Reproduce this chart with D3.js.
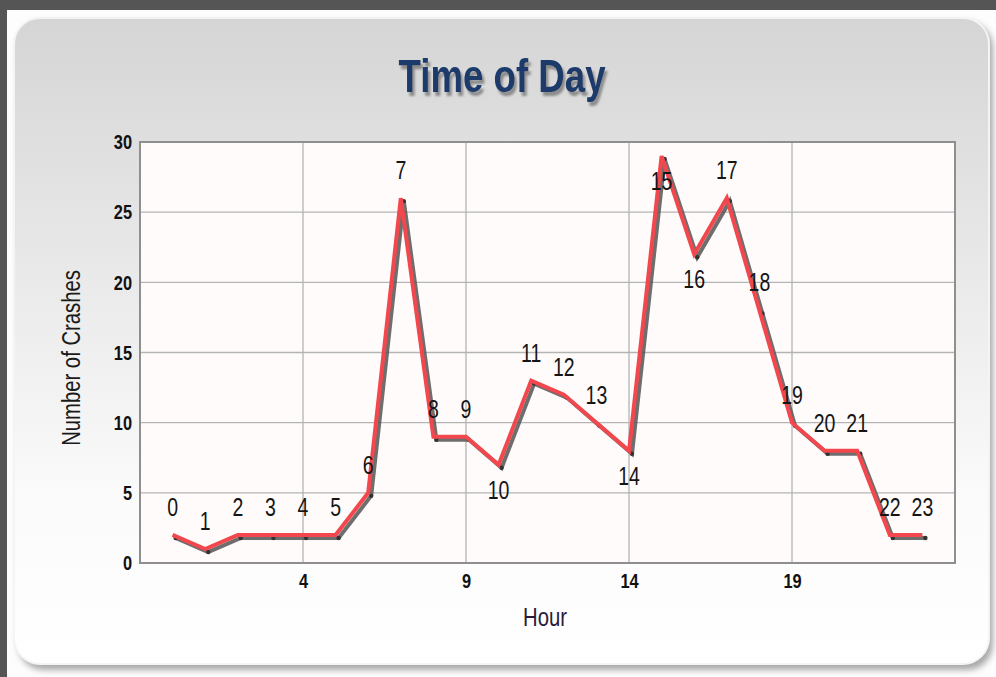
<!DOCTYPE html>
<html>
<head>
<meta charset="utf-8">
<script src="https://cdn.jsdelivr.net/npm/d3@7"></script>
<style>
  html, body { margin: 0; padding: 0; background: #555; }
  svg { display: block; }
  text { font-family: "Liberation Sans", Arial, sans-serif; }
</style>
</head>
<body>
<svg id="chart" width="996" height="677"></svg>
<script>
// chart data
const hours = d3.range(0, 24);
const crashes = [2, 1, 2, 2, 2, 2, 5, 26, 9, 9, 7, 13, 12, 10, 8, 29, 22, 26, 18, 10, 8, 8, 2, 2];
const xTicks = [4, 9, 14, 19];
const yTicks = [0, 5, 10, 15, 20, 25, 30];
const labelsBelow = [10, 14, 15, 16]; // hours whose label sits under the point

const svg = d3.select("#chart");
const W = 996, H = 677;
const plot = { left: 140, top: 142, right: 955, bottom: 563 };
const narrow = 0.78; // the original text is drawn tall and narrow

const defs = svg.append("defs");
const grad = defs.append("linearGradient")
  .attr("id", "panelGrad").attr("x1", 0).attr("y1", 0).attr("x2", 0).attr("y2", 1);
grad.append("stop").attr("offset", "0%").attr("stop-color", "#d5d5d5");
grad.append("stop").attr("offset", "45%").attr("stop-color", "#ececec");
grad.append("stop").attr("offset", "75%").attr("stop-color", "#fbfbfb");
grad.append("stop").attr("offset", "100%").attr("stop-color", "#ffffff");

const blur = defs.append("filter").attr("id", "shadowBlur")
  .attr("x", "-5%").attr("y", "-5%").attr("width", "110%").attr("height", "110%");
blur.append("feGaussianBlur").attr("stdDeviation", 3);

const titleShadow = defs.append("filter").attr("id", "titleShadow")
  .attr("x", "-10%").attr("y", "-20%").attr("width", "130%").attr("height", "150%");
titleShadow.append("feDropShadow")
  .attr("dx", 3).attr("dy", 4).attr("stdDeviation", 1.2)
  .attr("flood-color", "#777").attr("flood-opacity", 0.8);

// page backgrounds
svg.append("rect").attr("width", W).attr("height", H).attr("fill", "#555555");
svg.append("rect").attr("x", 7).attr("y", 10).attr("width", W).attr("height", H).attr("fill", "#fdfdfd");

// panel with shadow
svg.append("rect")
  .attr("x", 18).attr("y", 22).attr("width", 975).attr("height", 648)
  .attr("rx", 26).attr("fill", "#a8a8a8").attr("filter", "url(#shadowBlur)");
svg.append("rect")
  .attr("x", 14).attr("y", 18).attr("width", 975).attr("height", 646)
  .attr("rx", 26).attr("fill", "url(#panelGrad)")
  .attr("stroke", "#f4f4f4").attr("stroke-width", 2);

// title
svg.append("text")
  .attr("transform", `translate(502,92) scale(${narrow},1)`)
  .attr("text-anchor", "middle")
  .attr("font-size", 47).attr("font-weight", "bold")
  .attr("fill", "#1b3a6b")
  .attr("filter", "url(#titleShadow)")
  .text("Time of Day");

const x = d3.scaleLinear().domain([-1, 24]).range([plot.left, plot.right]);
const y = d3.scaleLinear().domain([0, 30]).range([plot.bottom, plot.top]);

// plot background
svg.append("rect")
  .attr("x", plot.left).attr("y", plot.top)
  .attr("width", plot.right - plot.left).attr("height", plot.bottom - plot.top)
  .attr("fill", "#fffbfb");

// gridlines
svg.append("g").selectAll("line").data(yTicks).join("line")
  .attr("x1", plot.left).attr("x2", plot.right)
  .attr("y1", d => y(d)).attr("y2", d => y(d))
  .attr("stroke", "#b4b4b4").attr("stroke-width", 1.3);
svg.append("g").selectAll("line").data(xTicks).join("line")
  .attr("x1", d => x(d)).attr("x2", d => x(d))
  .attr("y1", plot.top).attr("y2", plot.bottom)
  .attr("stroke", "#b4b4b4").attr("stroke-width", 1.3);

svg.append("rect")
  .attr("x", plot.left).attr("y", plot.top)
  .attr("width", plot.right - plot.left).attr("height", plot.bottom - plot.top)
  .attr("fill", "none").attr("stroke", "#8f8f8f").attr("stroke-width", 2);

// axes
const yAxis = svg.append("g")
  .attr("transform", `translate(${plot.left},0)`)
  .call(d3.axisLeft(y).tickValues(yTicks).tickSize(0).tickPadding(8));
yAxis.select(".domain").remove();
yAxis.selectAll("text")
  .attr("font-size", 21).attr("font-weight", "bold").attr("fill", "#111")
  .attr("transform", `scale(${narrow},1)`)
  .attr("x", -8 / narrow);

const xAxis = svg.append("g")
  .attr("transform", `translate(0,${plot.bottom})`)
  .call(d3.axisBottom(x).tickValues(xTicks).tickSize(0).tickPadding(10));
xAxis.select(".domain").remove();
xAxis.selectAll(".tick text")
  .attr("font-size", 21).attr("font-weight", "bold").attr("fill", "#111")
  .attr("transform", `scale(${narrow},1)`);

// axis titles
svg.append("text")
  .attr("transform", `translate(545,626) scale(${narrow},1)`)
  .attr("text-anchor", "middle")
  .attr("font-size", 26).attr("fill", "#2a1a3a")
  .text("Hour");
svg.append("text")
  .attr("transform", `translate(80,358) rotate(-90) scale(${narrow},1)`)
  .attr("text-anchor", "middle")
  .attr("font-size", 26).attr("fill", "#1a1a1a")
  .text("Number of Crashes");

// line series with drop shadow
const points = hours.map((h, i) => ({ hour: h, value: crashes[i] }));
const line = d3.line().x(d => x(d.hour)).y(d => y(d.value));

svg.append("path")
  .datum(points)
  .attr("transform", "translate(3,3)")
  .attr("d", line)
  .attr("fill", "none").attr("stroke", "#555").attr("stroke-width", 4)
  .attr("stroke-linejoin", "miter").attr("opacity", 0.85);
svg.append("g").selectAll("circle").data(points).join("circle")
  .attr("cx", d => x(d.hour) + 3).attr("cy", d => y(d.value) + 3)
  .attr("r", 2.2).attr("fill", "#333");
svg.append("path")
  .datum(points)
  .attr("d", line)
  .attr("fill", "none").attr("stroke", "#f2474c").attr("stroke-width", 4)
  .attr("stroke-linejoin", "miter");

// point labels
svg.append("g").selectAll("text").data(points).join("text")
  .attr("transform", d => {
    const ly = labelsBelow.includes(d.hour)
      ? Math.max(y(d.value) + 34, plot.top + 39)
      : y(d.value) - 19;
    return `translate(${x(d.hour)},${ly}) scale(${narrow},1)`;
  })
  .attr("text-anchor", "middle")
  .attr("font-size", 25).attr("fill", "#151515")
  .text(d => d.hour);
</script>
</body>
</html>
